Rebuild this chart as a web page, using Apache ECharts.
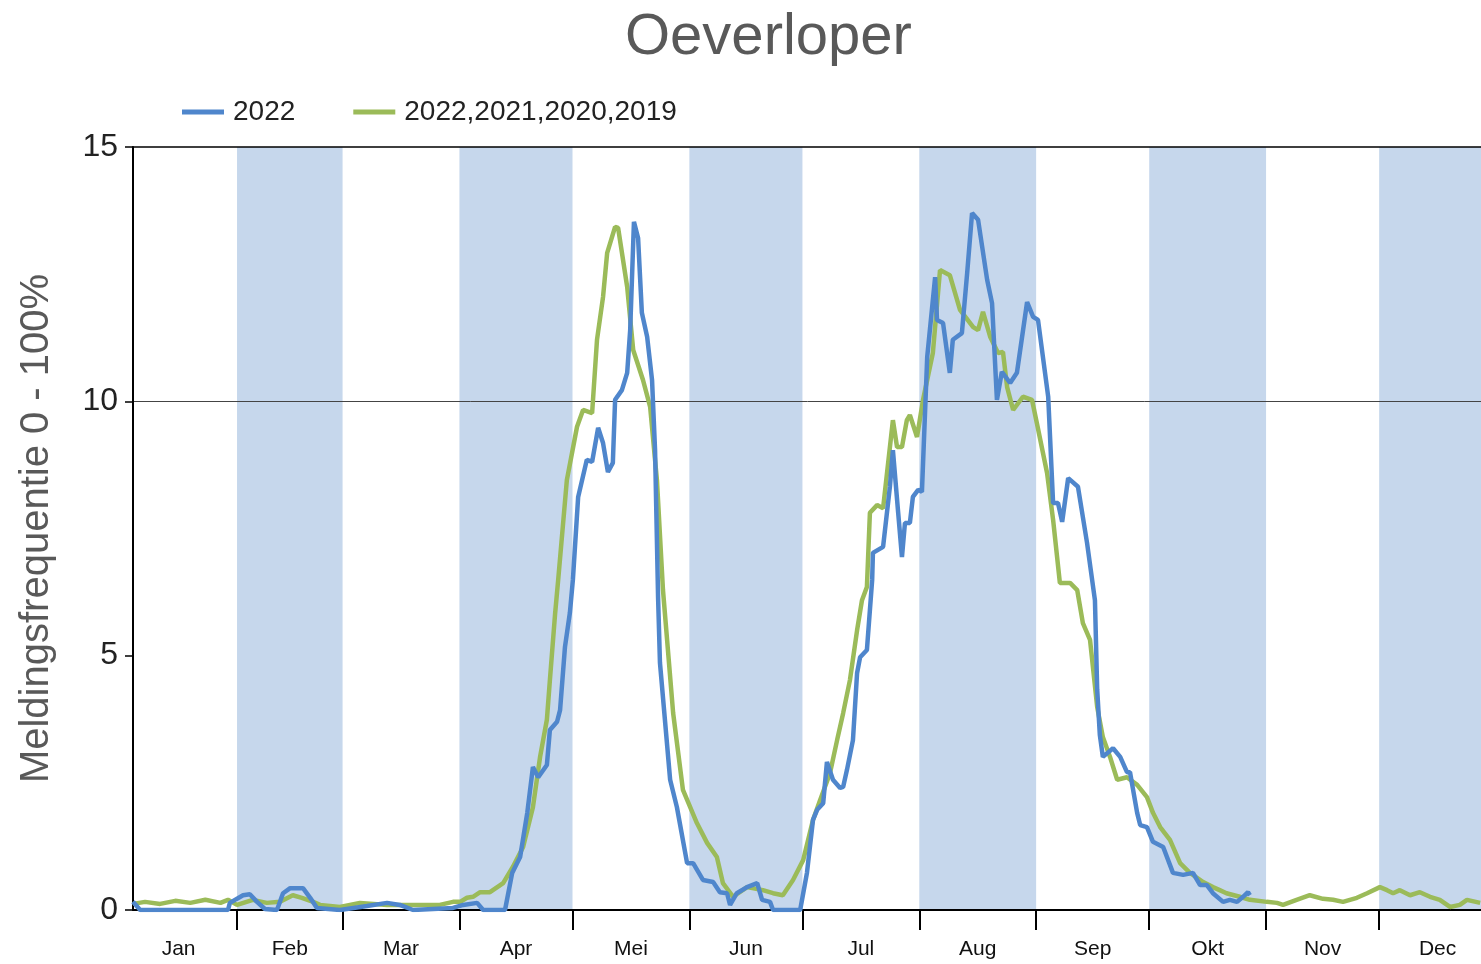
<!DOCTYPE html>
<html>
<head>
<meta charset="utf-8">
<script src="https://cdn.jsdelivr.net/npm/echarts@6/dist/echarts.min.js"></script>
<style>
  html, body { margin: 0; padding: 0; background: #fff; }
  #main { width: 1481px; height: 964px; }
</style>
</head>
<body>
<div id="main"></div>
<script>
// dag van het jaar -> meldingsfrequentie
const months = ["Jan", "Feb", "Mar", "Apr", "Mei", "Jun", "Jul", "Aug", "Sep", "Okt", "Nov", "Dec"];
const monthStarts = [1, 32, 60, 91, 121, 152, 182, 213, 244, 274, 305, 335, 366];
const yTicks = [0, 5, 10, 15];

const days2022 = [4.4, 6.3, 29.6, 30.1, 33.6, 35.4, 37.3, 39.4, 42.6, 44.2, 46.1, 49.5, 51.4, 53.2, 59.3, 66.5, 71.8, 75.2, 78.7, 89.3,
  92.0, 95.7, 97.3, 103.1, 105.0, 107.1, 109.0, 110.5, 111.9, 114.2, 115.0, 116.9, 117.7, 119.0, 120.3, 121.1, 122.5, 124.8, 126.2, 127.8,
  129.1, 130.4, 131.7, 132.3, 134.1, 135.5, 136.3, 137.3, 138.4, 139.4, 140.8, 142.1, 142.9, 143.7, 144.2, 146.9, 148.7, 151.4, 153.0, 155.6,
  158.3, 160.1, 162.0, 162.8, 164.6, 167.3, 170.0, 171.3, 173.4, 174.2, 181.4, 183.2, 184.8, 185.9, 187.5, 188.5, 190.1, 192.0, 192.8, 193.8,
  195.4, 196.5, 197.3, 199.1, 200.5, 200.7, 203.4, 205.2, 206.0, 207.4, 208.4, 209.2, 210.5, 211.3, 212.7, 213.7, 215.1, 217.2, 217.7, 219.3,
  221.1, 221.9, 224.3, 225.7, 227.0, 228.6, 231.0, 232.3, 233.6, 234.9, 237.1, 238.9, 241.6, 243.2, 244.5, 247.2, 248.5, 249.8, 250.9, 252.5,
  255.1, 257.5, 259.6, 260.2, 260.9, 261.7, 264.4, 266.3, 268.1, 268.9, 270.8, 271.6, 273.4, 275.0, 277.7, 280.3, 283.0, 285.6, 287.5, 289.3,
  290.9, 293.6, 295.4, 297.3, 298.9, 300.2, 300.7];
const vals2022 = [0.16, 0, 0, 0.14, 0.29, 0.31, 0.16, 0.02, 0, 0.33, 0.43, 0.43, 0.24, 0.04, 0, 0.08, 0.14, 0.10, 0, 0.04,
  0.10, 0.14, 0, 0, 0.73, 1.04, 1.91, 2.81, 2.61, 2.85, 3.54, 3.70, 3.93, 5.17, 5.84, 6.49, 8.12, 8.85, 8.81, 9.48,
  9.18, 8.61, 8.79, 10.03, 10.22, 10.56, 11.40, 13.53, 13.21, 11.74, 11.27, 10.42, 9.04, 6.15, 4.86, 2.56, 2.02, 0.92, 0.92, 0.59,
  0.55, 0.35, 0.33, 0.10, 0.33, 0.45, 0.53, 0.20, 0.16, 0, 0, 0.73, 1.77, 1.97, 2.10, 2.91, 2.56, 2.40, 2.42, 2.75,
  3.34, 4.66, 4.97, 5.11, 6.49, 7.02, 7.14, 8.32, 9.04, 7.81, 6.94, 7.61, 7.61, 8.12, 8.26, 8.22, 10.87, 12.44, 11.60, 11.54,
  10.56, 11.21, 11.34, 12.52, 13.70, 13.57, 12.39, 11.93, 10.03, 10.58, 10.36, 10.56, 11.95, 11.66, 11.60, 10.09, 8.00, 8.00, 7.63, 8.49,
  8.32, 7.22, 6.09, 4.33, 3.44, 3.01, 3.18, 3.01, 2.71, 2.71, 1.91, 1.67, 1.63, 1.34, 1.24, 0.73, 0.69, 0.73, 0.49, 0.49,
  0.33, 0.16, 0.20, 0.16, 0.26, 0.35, 0.29];

const daysAll = [4.4, 7.6, 11.6, 15.6, 19.6, 23.6, 27.6, 29.6, 32.0, 36.2, 39.9, 43.4, 46.8, 49.2, 52.2, 54.0, 59.3, 64.6, 71.8, 78.7,
  85.8, 89.3, 91.2, 93.0, 94.6, 96.5, 99.1, 102.6, 105.2, 107.9, 110.5, 112.4, 114.2, 115.0, 116.4, 117.2, 119.5, 122.2, 123.8, 126.2,
  127.5, 129.1, 130.2, 132.3, 133.1, 135.5, 137.1, 139.7, 141.6, 143.4, 145.0, 147.7, 150.3, 154.0, 156.7, 159.3, 160.9, 163.6, 167.3, 171.5,
  174.2, 176.8, 179.5, 182.2, 184.8, 186.7, 189.3, 191.2, 192.8, 194.6, 196.5, 197.8, 199.1, 199.9, 201.8, 203.4, 206.0, 207.1, 208.4, 209.7,
  210.5, 212.4, 214.0, 216.6, 218.5, 221.1, 223.8, 227.3, 228.6, 229.9, 231.8, 233.9, 235.2, 236.3, 237.9, 240.5, 242.9, 244.2, 246.9, 248.5,
  250.3, 253.0, 254.9, 256.4, 258.3, 260.2, 261.7, 263.6, 265.5, 268.1, 270.8, 273.4, 275.0, 276.9, 279.5, 282.2, 284.8, 288.3, 290.9, 292.7,
  294.5, 298.0, 300.7, 305.2, 307.9, 309.5, 313.1, 316.6, 320.1, 322.8, 325.4, 329.1, 331.8, 335.2, 337.1, 338.7, 340.5, 343.2, 345.8, 348.5,
  351.1, 353.8, 356.4, 358.3, 361.8];
const valsAll = [0.12, 0.16, 0.12, 0.18, 0.14, 0.20, 0.14, 0.20, 0.10, 0.20, 0.14, 0.16, 0.29, 0.24, 0.16, 0.10, 0.06, 0.14, 0.10, 0.10,
  0.10, 0.16, 0.16, 0.24, 0.26, 0.35, 0.35, 0.53, 0.85, 1.24, 2.02, 3.01, 3.74, 4.52, 5.84, 6.49, 8.45, 9.50, 9.83, 9.77,
  11.21, 12.05, 12.92, 13.43, 13.41, 12.25, 11.01, 10.42, 9.89, 8.45, 6.29, 3.87, 2.36, 1.71, 1.32, 1.04, 0.53, 0.26, 0.45, 0.39,
  0.33, 0.29, 0.59, 0.98, 1.77, 2.16, 2.69, 3.34, 3.87, 4.52, 5.50, 6.09, 6.35, 7.81, 7.96, 7.90, 9.63, 9.10, 9.10, 9.63,
  9.73, 9.30, 10.03, 10.95, 12.58, 12.48, 11.80, 11.46, 11.40, 11.76, 11.27, 10.95, 10.97, 10.28, 9.83, 10.09, 10.03, 9.57, 8.59, 7.67,
  6.43, 6.43, 6.29, 5.64, 5.31, 3.99, 3.40, 3.01, 2.56, 2.61, 2.46, 2.22, 1.91, 1.63, 1.38, 0.92, 0.73, 0.55, 0.45, 0.39,
  0.33, 0.26, 0.20, 0.16, 0.14, 0.10, 0.20, 0.29, 0.22, 0.20, 0.16, 0.24, 0.33, 0.45, 0.39, 0.33, 0.39, 0.29, 0.35, 0.26,
  0.20, 0.06, 0.10, 0.20, 0.14];

const font = "Liberation Sans";
const blue = "#4f86cc";
const green = "#9bbb59";
const band = "#c6d7ec";

let pairs = (xs, ys) => xs.map((d, i) => [d, ys[i]]);

// maandmidden voor labels, elke tweede maand gekleurd
const monthMids = months.map((m, i) => (monthStarts[i] + monthStarts[i + 1]) / 2);
const bands = [];
for (let i = 1; i < 12; i += 2) {
  bands.push([{ xAxis: monthStarts[i] }, { xAxis: monthStarts[i + 1] }]);
}

let chart = echarts.init(document.getElementById("main"));
let option = {
  animation: false,
  backgroundColor: "#fff",
  title: {
    text: "Oeverloper",
    left: 620,
    top: 4,
    textStyle: { fontFamily: font, fontSize: 58, fontWeight: "normal", color: "#595959" },
  },
  legend: {
    data: ["2022", "2022,2021,2020,2019"],
    left: 177,
    top: 93,
    icon: "rect",
    itemWidth: 42,
    itemHeight: 5,
    itemGap: 58,
    textStyle: { fontFamily: font, fontSize: 28, color: "#222", padding: [0, 0, 0, 4] },
  },
  grid: { left: 133, top: 147, width: 1363, height: 763, outerBoundsMode: "none" },
  xAxis: [
    {
      type: "value",
      min: 4.4,
      max: 366,
      z: 3,
      splitLine: { show: false },
      axisLine: { lineStyle: { color: "#000", width: 2 } },
      axisTick: {
        customValues: monthStarts.slice(1, 12),
        length: 20,
        lineStyle: { color: "#000", width: 2 },
      },
      axisLabel: {
        customValues: monthMids,
        formatter: (v) => months[monthMids.indexOf(v)] || "",
        margin: 29,
        fontFamily: font,
        fontSize: 21,
        color: "#111",
      },
    },
    {
      type: "value",
      position: "top",
      min: 4.4,
      max: 366,
      z: 3,
      splitLine: { show: false },
      axisLine: { show: true, lineStyle: { color: "#000", width: 1.5 } },
      axisTick: { show: false },
      axisLabel: { show: false },
    },
  ],
  yAxis: {
    type: "value",
    min: 0,
    max: 15,
    interval: 5,
    z: 3,
    name: "Meldingsfrequentie 0 - 100%",
    nameLocation: "middle",
    nameGap: 76,
    nameTextStyle: { fontFamily: font, fontSize: 40, color: "#595959" },
    splitLine: { show: false },
    axisLine: { show: true, lineStyle: { color: "#000", width: 2 } },
    axisTick: { show: true, length: 8, lineStyle: { color: "#000", width: 1.5 } },
    axisLabel: {
      customValues: yTicks,
      margin: 15,
      fontFamily: font,
      fontSize: 32,
      color: "#222",
    },
  },
  series: [
    {
      name: "2022,2021,2020,2019",
      type: "line",
      showSymbol: false,
      data: pairs(daysAll, valsAll),
      lineStyle: { color: green, width: 4.5 },
      itemStyle: { color: green },
      markArea: {
        silent: true,
        z: 1,
        itemStyle: { color: band },
        data: bands,
      },
      markLine: {
        silent: true,
        z: 1.5,
        symbol: "none",
        label: { show: false },
        lineStyle: { color: "#444", width: 1, type: "solid" },
        data: [{ yAxis: 10 }],
      },
    },
    {
      name: "2022",
      type: "line",
      showSymbol: false,
      data: pairs(days2022, vals2022),
      lineStyle: { color: blue, width: 4.5 },
      itemStyle: { color: blue },
    },
  ],
};
chart.setOption(option);
</script>
</body>
</html>
